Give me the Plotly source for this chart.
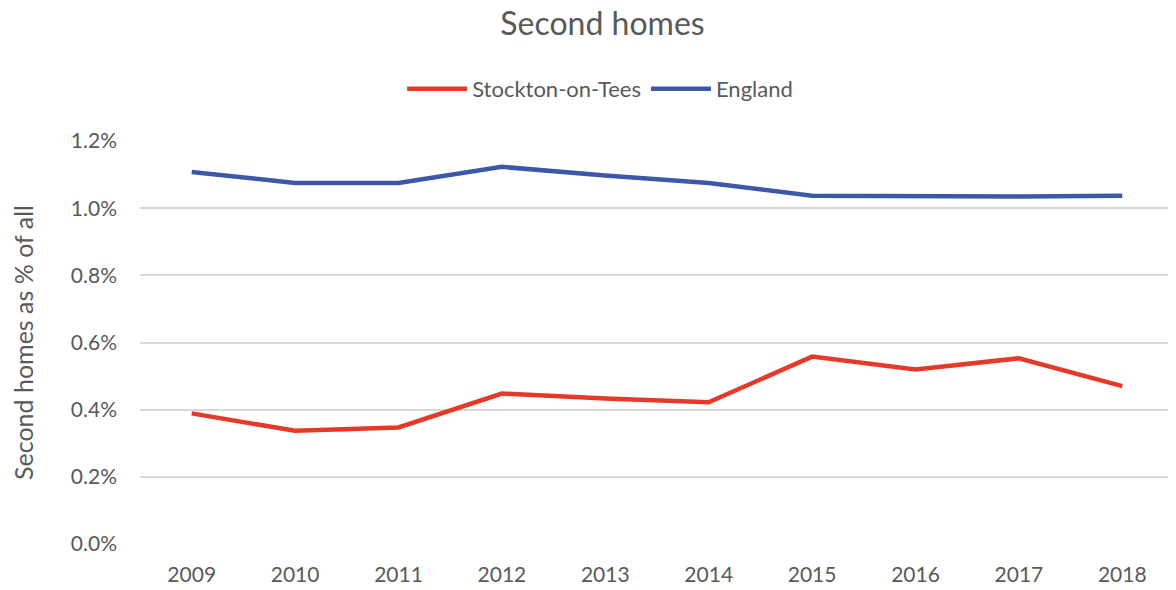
import plotly.graph_objects as go

years = ["2009", "2010", "2011", "2012", "2013", "2014", "2015", "2016", "2017", "2018"]
stockton = [0.389, 0.337, 0.347, 0.448, 0.433, 0.422, 0.558, 0.520, 0.553, 0.470]
england = [1.108, 1.075, 1.075, 1.123, 1.097, 1.075, 1.037, 1.035, 1.035, 1.037]
yticks = [0.0, 0.2, 0.4, 0.6, 0.8, 1.0, 1.2]

font = "Lato, 'Open Sans', sans-serif"
grey = "#595959"

fig = go.Figure()
fig.add_trace(go.Scatter(x=years, y=[v / 100 for v in stockton], mode="lines",
                         name="Stockton-on-Tees",
                         line=dict(color="#E5392A", width=4.5)))
fig.add_trace(go.Scatter(x=years, y=[v / 100 for v in england], mode="lines",
                         name="England",
                         line=dict(color="#3D58A7", width=4.5)))

# the page has an 8px body margin, so the figure is sized to fit the window
fig.update_layout(
    width=1168, height=582,
    margin=dict(l=132, r=2, t=133, b=46),
    paper_bgcolor="white", plot_bgcolor="white",
    font=dict(family=font, color=grey, size=21),
    title=dict(text="Second homes", x=0.509, xref="container", xanchor="center",
               y=1.0, yref="container", yanchor="top", pad=dict(t=5),
               font=dict(size=32, color=grey, family=font)),
    legend=dict(orientation="h", x=0.445, xanchor="center", y=1.129, yanchor="middle",
                font=dict(size=22, color=grey), itemwidth=60),
    showlegend=True,
)
fig.update_xaxes(type="category", range=[-0.5, len(years) - 0.5],
                 showgrid=False, showline=False, zeroline=False,
                 tickfont=dict(size=21, color=grey), ticklabelstandoff=16)
fig.update_yaxes(range=[0, 0.012], tickvals=[v / 100 for v in yticks],
                 tickformat=".1%", showgrid=True, gridcolor="#D9D9D9", gridwidth=1.5,
                 zeroline=False, showline=False,
                 tickfont=dict(size=21, color=grey), ticklabelstandoff=22,
                 title=dict(text="Second homes as % of all", standoff=35,
                            font=dict(size=25, color=grey)))

fig.write_html("out.html")
